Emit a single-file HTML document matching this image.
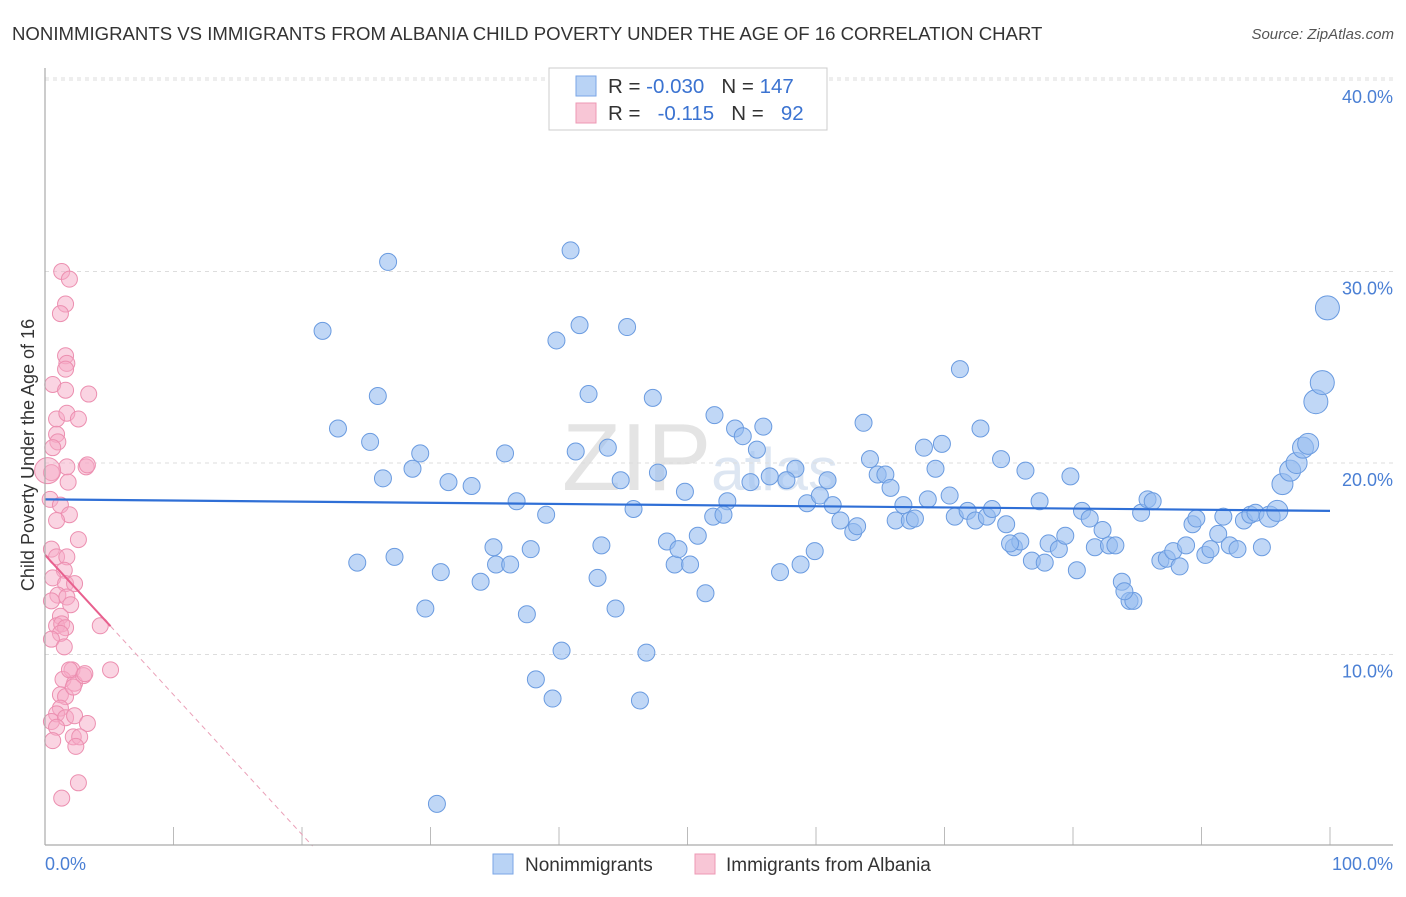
<!DOCTYPE html>
<html><head><meta charset="utf-8"><style>
body{margin:0;background:#fff;font-family:"Liberation Sans",sans-serif;}
svg text{font-family:"Liberation Sans",sans-serif;}
</style></head><body>
<svg id="chart" width="1406" height="892">
<text x="12" y="40" font-size="18.6" fill="#333">NONIMMIGRANTS VS IMMIGRANTS FROM ALBANIA CHILD POVERTY UNDER THE AGE OF 16 CORRELATION CHART</text>
<text x="1394" y="39" font-size="15" fill="#555" font-style="italic" text-anchor="end">Source: ZipAtlas.com</text>
<text x="700" y="490" font-size="96" fill="#e4e4e4" text-anchor="middle" font-family="Liberation Serif">ZIP<tspan font-size="60" fill="#dde6f2" font-family="Liberation Sans">atlas</tspan></text>
<g id="grid"></g><g id="pts"></g><g id="trend"></g>
<line x1="45" y1="68" x2="45" y2="845" stroke="#aaa" stroke-width="1.2"/>
<line x1="45" y1="845" x2="1393" y2="845" stroke="#aaa" stroke-width="1.2"/>
<text x="34" y="455" font-size="18" fill="#333" text-anchor="middle" transform="rotate(-90 34 455)">Child Poverty Under the Age of 16</text>
<text x="45" y="870" font-size="18" fill="#4a7fd4">0.0%</text>
<text x="1393" y="870" font-size="18" fill="#4a7fd4" text-anchor="end">100.0%</text>
<g>
<rect x="549" y="68" width="278" height="62" fill="#fff" stroke="#ccc"/>
<rect x="576" y="76" width="20" height="20" fill="#b9d3f5" stroke="#7aa6e6"/>
<rect x="576" y="103" width="20" height="20" fill="#f8c6d6" stroke="#ee98b4"/>
<text x="608" y="93" font-size="20.5" fill="#333">R = <tspan fill="#3b73d1">-0.030</tspan>&#160;&#160; N = <tspan fill="#3b73d1">147</tspan></text>
<text x="608" y="120" font-size="20.5" fill="#333">R = &#160;&#160;<tspan fill="#3b73d1">-0.115</tspan>&#160;&#160; N = &#160;&#160;<tspan fill="#3b73d1">92</tspan></text>
</g>
<g><rect x="493" y="854" width="20" height="20" fill="#b9d3f5" stroke="#7aa6e6"/><text x="525" y="871" font-size="19" fill="#333">Nonimmigrants</text></g>
<g><rect x="695" y="854" width="20" height="20" fill="#f8c6d6" stroke="#ee98b4"/><text x="726" y="871" font-size="19" fill="#333">Immigrants from Albania</text></g>
</svg>
<script>
const yTicks=[10,20,30,40];
const yTickLabels=["10.0%","20.0%","30.0%","40.0%"];
const xTicks=[0,10,20,30,40,50,60,70,80,90,100];
const blueX=[21.6,26.7,40.9,39.8,41.6,45.3,25.9,42.3,47.3,22.8,25.3,29.2,28.6,26.3,35.8,31.4,33.2,36.7,39.0,41.3,43.8,44.8,47.7,49.8,45.8,52.1,53.7,54.3,55.9,55.4,54.9,56.4,58.4,57.7,53.1,52.0,52.8,59.3,60.3,60.9,61.3,61.9,62.9,63.2,63.7,64.2,64.8,65.4,65.8,66.8,66.2,67.3,67.7,68.4,69.3,69.8,68.7,70.4,71.2,72.8,70.8,71.8,72.4,73.3,73.7,74.4,74.8,76.3,75.4,75.9,77.4,76.8,77.8,78.1,78.9,79.4,79.8,80.3,80.7,81.3,81.7,82.3,82.8,83.3,83.8,84.4,84.7,85.3,85.8,86.2,86.8,87.3,87.8,88.3,88.8,89.3,89.6,90.3,90.7,91.3,91.7,92.2,92.8,93.3,93.8,94.2,94.7,95.3,95.9,96.3,96.9,97.4,97.9,98.3,98.9,99.4,99.8,24.3,27.2,30.8,29.6,33.9,34.9,35.1,36.2,37.8,37.5,40.2,38.2,39.5,43.0,43.3,44.4,46.3,46.8,48.4,49.0,49.3,50.2,51.4,50.8,57.2,58.8,59.9,30.5,75.1,84.0];
const blueY=[26.9,30.5,31.1,26.4,27.2,27.1,23.5,23.6,23.4,21.8,21.1,20.5,19.7,19.2,20.5,19.0,18.8,18.0,17.3,20.6,20.8,19.1,19.5,18.5,17.6,22.5,21.8,21.4,21.9,20.7,19.0,19.3,19.7,19.1,18.0,17.2,17.3,17.9,18.3,19.1,17.8,17.0,16.4,16.7,22.1,20.2,19.4,19.4,18.7,17.8,17.0,17.0,17.1,20.8,19.7,21.0,18.1,18.3,24.9,21.8,17.2,17.5,17.0,17.2,17.6,20.2,16.8,19.6,15.6,15.9,18.0,14.9,14.8,15.8,15.5,16.2,19.3,14.4,17.5,17.1,15.6,16.5,15.7,15.7,13.8,12.8,12.8,17.4,18.1,18.0,14.9,15.0,15.4,14.6,15.7,16.8,17.1,15.2,15.5,16.3,17.2,15.7,15.5,17.0,17.3,17.4,15.6,17.2,17.5,18.9,19.6,20.0,20.8,21.0,23.2,24.2,28.1,14.8,15.1,14.3,12.4,13.8,15.6,14.7,14.7,15.5,12.1,10.2,8.7,7.7,14.0,15.7,12.4,7.6,10.1,15.9,14.7,15.5,14.7,13.2,16.2,14.3,14.7,15.4,2.2,15.8,13.3];
const pinkX=[1.3,1.9,1.6,1.2,1.6,1.7,1.6,0.6,1.6,3.4,0.9,1.7,2.6,0.9,1.0,0.6,0.5,1.7,3.2,3.3,1.8,0.4,1.2,1.9,0.9,2.6,0.5,0.9,1.7,1.5,0.6,1.6,2.3,1.0,1.7,0.5,2.0,1.2,0.9,1.3,1.6,1.2,0.5,1.5,4.3,5.1,2.1,1.4,2.3,1.2,1.6,1.2,0.9,0.5,1.6,2.3,0.9,3.3,2.2,2.7,2.4,0.6,2.6,1.3,3.0,3.1,1.9,2.2,0.2];
const pinkY=[30.0,29.6,28.3,27.8,25.6,25.2,24.9,24.1,23.8,23.6,22.3,22.6,22.3,21.5,21.1,20.8,19.5,19.8,19.8,19.9,19.0,18.1,17.8,17.3,17.0,16.0,15.5,15.1,15.1,14.4,14.0,13.7,13.7,13.1,13.0,12.8,12.6,12.0,11.5,11.6,11.4,11.1,10.8,10.4,11.5,9.2,9.2,8.7,8.5,7.9,7.8,7.2,6.9,6.5,6.7,6.8,6.2,6.4,5.7,5.7,5.2,5.5,3.3,2.5,8.9,9.0,9.2,8.3,19.6];
const blueTrend=[18.1,17.5];
const pinkTrend=[15.2,-0.73];
const NS='http://www.w3.org/2000/svg';
const X=v=>45+v*12.85, Y=v=>846-v*19.15;
function mk(tag,attrs,parent){const e=document.createElementNS(NS,tag);for(const k in attrs)e.setAttribute(k,attrs[k]);parent.appendChild(e);return e;}
const grid=document.getElementById('grid'),pts=document.getElementById('pts'),tr=document.getElementById('trend');
yTicks.forEach((t,i)=>{
 const l=mk('line',{x1:45,x2:1393,y1:Y(t),y2:Y(t),stroke:'#ddd','stroke-dasharray':'4,4'},grid);
 
 
 const tx=mk('text',{x:1393,y:Y(t)+23,'font-size':18,fill:'#4a7fd4','text-anchor':'end'},grid);
 tx.textContent=yTickLabels[i];
 
 
});
mk('line',{x1:45,x2:1393,y1:Y(40)-2,y2:Y(40)-2,stroke:'#ddd','stroke-dasharray':'4,4'},grid);
xTicks.forEach(t=>{
 const l=mk('line',{x1:X(t),x2:X(t),y1:827,y2:845,stroke:'#bbb'},grid);
 
 
});
blueX.forEach((x,i)=>{
 const r=x>95?(blueY[i]>22?12:10.5):8.5;
 const c=mk('circle',{cx:X(x),cy:Y(blueY[i]),r:r,fill:'rgba(150,188,240,0.6)',stroke:'#6a9be0','stroke-width':1},pts);
 
 
});
pinkX.forEach((x,i)=>{
 const r=(i==pinkX.length-1)?13:8;
 const c=mk('circle',{cx:X(x),cy:Y(pinkY[i]),r:r,fill:'rgba(246,170,198,0.5)',stroke:'#ec8fb0','stroke-width':1},pts);
 
 
});
const bl=mk('line',{x1:X(0),x2:X(100),y1:Y(blueTrend[0]),y2:Y(blueTrend[1]),stroke:'#2f6fd6','stroke-width':2.2},tr);


const pe=5.1, pz=-pinkTrend[0]/pinkTrend[1];
const pl=mk('line',{x1:X(0),x2:X(pe),y1:Y(pinkTrend[0]),y2:Y(pinkTrend[0]+pinkTrend[1]*pe),stroke:'#e8608e','stroke-width':2},tr);


const pd=mk('line',{x1:X(pe),x2:X(pz),y1:Y(pinkTrend[0]+pinkTrend[1]*pe),y2:Y(0),stroke:'#eaa0b8','stroke-width':1,'stroke-dasharray':'5,4'},tr);


</script>
</body></html>
